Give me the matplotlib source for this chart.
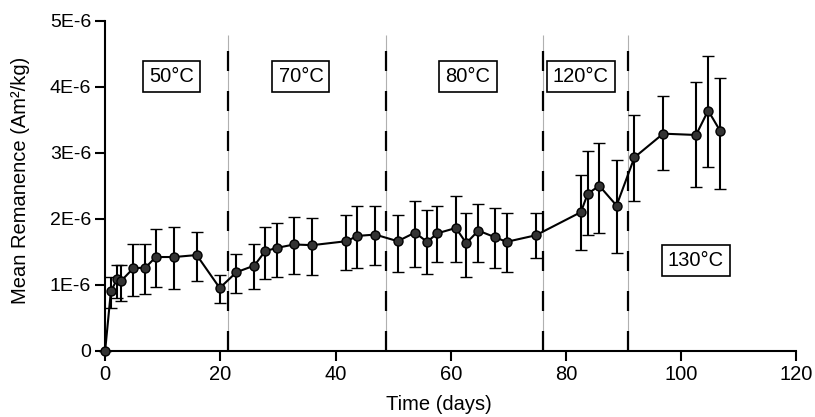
import matplotlib
matplotlib.use("Agg")
import matplotlib.pyplot as plt
import numpy as np

plt.rcParams['font.family'] = ['Liberation Sans', 'DejaVu Sans']

days = [0.0, 1.0, 2.1, 2.8, 4.9, 7.0, 8.8, 12.0, 15.9, 19.9,
        22.8, 25.9, 27.8, 29.9, 32.8, 36.0, 41.9, 43.8, 46.9,
        50.8, 53.8, 55.9, 57.7, 60.9, 62.7, 64.8, 67.7, 69.7, 74.8,
        82.6, 83.8, 85.8, 88.8, 91.9, 96.9, 102.6, 104.7, 106.8]
remanence = [0.00, 0.90, 1.09, 1.06, 1.25, 1.26, 1.42, 1.42, 1.45, 0.95,
             1.19, 1.29, 1.51, 1.56, 1.61, 1.60, 1.66, 1.74, 1.76,
             1.66, 1.79, 1.65, 1.78, 1.86, 1.63, 1.82, 1.72, 1.65, 1.75,
             2.10, 2.38, 2.50, 2.20, 2.93, 3.29, 3.27, 3.64, 3.33]
err_top = [0.00, 1.12, 1.30, 1.30, 1.62, 1.62, 1.85, 1.87, 1.80, 1.15,
           1.46, 1.62, 1.87, 1.93, 2.03, 2.01, 2.06, 2.19, 2.19,
           2.06, 2.27, 2.13, 2.19, 2.34, 2.09, 2.22, 2.16, 2.09, 2.09,
           2.66, 3.03, 3.15, 2.89, 3.57, 3.86, 4.07, 4.47, 4.14]
err_bottom = [0.00, 0.65, 0.80, 0.76, 0.83, 0.86, 0.96, 0.93, 1.05, 0.73,
              0.88, 0.94, 1.09, 1.12, 1.17, 1.14, 1.22, 1.25, 1.30,
              1.20, 1.27, 1.17, 1.35, 1.35, 1.12, 1.35, 1.25, 1.20, 1.41,
              1.52, 1.75, 1.78, 1.48, 2.27, 2.74, 2.48, 2.79, 2.45]
scale = 1e-6

boundaries = [21.4, 48.8, 76.1, 90.7]
boundary_top = 4.78

labels = ["50°C", "70°C", "80°C", "120°C", "130°C"]
label_x = [11.5, 34.0, 63.0, 82.6, 102.6]
label_y = [4.16, 4.16, 4.16, 4.16, 1.37]

yticks = [0, 1, 2, 3, 4, 5]
ytick_labels = ["0", "1E-6", "2E-6", "3E-6", "4E-6", "5E-6"]
xticks = [0, 20, 40, 60, 80, 100, 120]

fig = plt.figure(figsize=(8.15, 4.17), dpi=100)
ax = fig.add_axes([0.129, 0.159, 0.848, 0.791])

y = np.array(remanence) * scale
top = np.array(err_top) * scale
bot = np.array(err_bottom) * scale
yerr = np.vstack([y - bot, top - y])

for xb in boundaries:
    ax.vlines(xb, 0, boundary_top * scale, color='#b0b0b0', lw=0.8, zorder=1)
    ax.vlines(xb, 0, boundary_top * scale, color='black', lw=1.6,
              linestyles=(0, (9, 9)), zorder=1.5)

ax.errorbar(days, y, yerr=yerr, fmt='-o', color='black', lw=1.5,
            ecolor='black', elinewidth=1.5, capsize=4, capthick=1.5,
            markersize=6.5, markerfacecolor='#333333', markeredgecolor='black',
            markeredgewidth=1, zorder=3, clip_on=False)

for t, lx, ly in zip(labels, label_x, label_y):
    ax.text(lx, ly * scale, t, ha='center', va='center', fontsize=14.5,
            bbox=dict(boxstyle='square,pad=0.3', facecolor='white',
                      edgecolor='black', lw=1.2), zorder=4)

ax.set_xlim(0, 120)
ax.set_ylim(0, 5 * scale)
ax.set_xticks(xticks)
ax.set_yticks([v * scale for v in yticks])
ax.set_yticklabels(ytick_labels)
ax.spines['top'].set_visible(False)
ax.spines['right'].set_visible(False)
for s in ['left', 'bottom']:
    ax.spines[s].set_linewidth(1.5)
ax.tick_params(axis='both', direction='out', length=7, width=1.5, pad=3)
ax.tick_params(axis='x', labelsize=14.5)
ax.tick_params(axis='y', labelsize=14)
ax.set_xlabel("Time (days)", fontsize=14.5)
ax.set_ylabel("Mean Remanence (Am²/kg)", fontsize=14.5)
ax.xaxis.set_label_coords(0.483, -0.135)
ax.yaxis.set_label_coords(-0.108, 0.517)

fig.savefig("out.png", dpi=100)
